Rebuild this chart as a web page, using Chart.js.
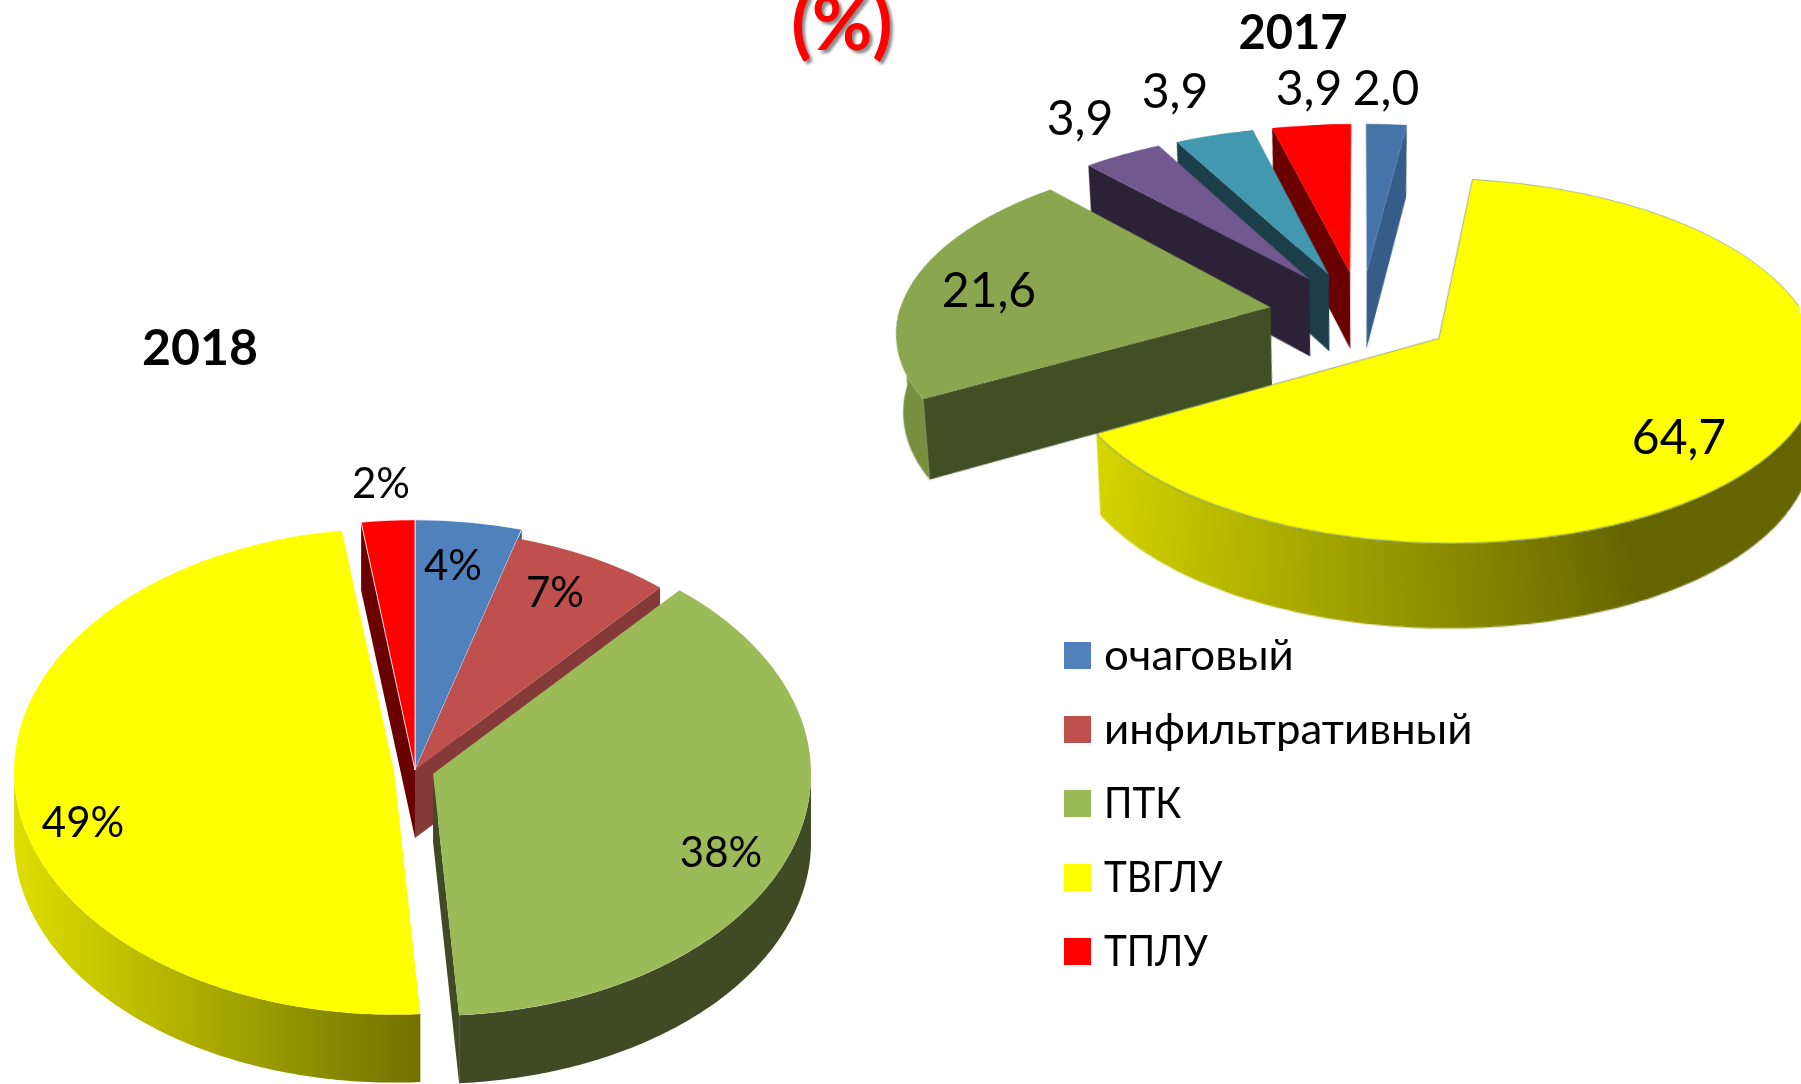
<!DOCTYPE html>
<html lang="ru">
<head>
<meta charset="utf-8">
<title>Диаграмма</title>
<script src="https://cdn.jsdelivr.net/npm/chart.js@4"></script>
<style>
html,body{margin:0;padding:0;background:#fff;width:1801px;height:1084px;overflow:hidden}
canvas{position:absolute;left:0;top:0}
.t{position:absolute;transform:translate(-50%,-50%);font-family:Lato,"Noto Sans",sans-serif;line-height:1;color:#000;white-space:nowrap}
.lg{position:absolute;font-family:Lato,"Noto Sans",sans-serif;color:#000;font-size:43px;line-height:1;white-space:nowrap;transform-origin:left center}
.sw{position:absolute;width:27px;height:27px}
</style>
</head>
<body>
<canvas id="c2018" width="1801" height="1084"></canvas>
<canvas id="c2017" width="1801" height="1084"></canvas>
<script>
// ---- data ----
const categories2018 = ['очаговый','инфильтративный','ПТК','ТВГЛУ','ТПЛУ'];
const values2018 = [4.4,6.9,37.6,48.9,2.2];
const categories2017 = ['очаговый','ТВГЛУ','ПТК','прочие 1','прочие 2','ТПЛУ'];
const values2017 = [2.0,64.7,21.6,3.9,3.9,3.9];
const year2018 = '2018', year2017 = '2017', heading = '(%)';

// ---- styles ----
const colors2018 = ['#4F81BD','#C0504D','#9BBB59','#FFFF00','#FF0000'];
const cutColors2018 = ['#3A5F8C','#853A38','#404B25','#6E6E00','#6B0000'];
const rimFills2018 = ['#3A5F8C','#853A38','#404B25',['#DEDE00','#727200',14,417],'#6B0000'];
const borders2018 = ['#FFFFFF','rgba(0,0,0,0)','rgba(0,0,0,0)','rgba(0,0,0,0)','#FFFFFF'];
const colors2017 = ['#4674A8','#FFFF00','#8AA64F','#71588F','#4198AF','#FF0000'];
const cutColors2017 = ['#365C8A','#6B6B00','#414F25','#2C2238','#1C3D4A','#6B0000'];
const rimFills2017 = ['#365C8A',['#DBDB00','#646400',1099,1600],'#76903F','#2C2238','#1C3D4A','#6B0000'];
const borders2017 = ['rgba(0,0,0,0)','rgba(60,100,150,.7)','rgba(0,0,0,0)','rgba(0,0,0,0)','rgba(0,0,0,0)','rgba(0,0,0,0)'];

// ---- 3D geometry ----
const view2018 = {radii:[391,376,378,380,391], squash:0.64, depth:68, depthGrow:0, converge:1, persp:0, explode:[0,0,19,21,0]};
const view2017 = {radii:[375,370,372,375,375,375], squash:0.47, depth:78, depthGrow:0.03, converge:0.985, persp:0.0007, explode:[92,92,92,92,92,92]};

// Squashes the library's arcs into ellipses, adds extruded walls, and applies the perspective.
const pie3d = {
  id:'pie3d',
  afterDatasetsUpdate(chart,args,o){
    const a=chart.chartArea, cx=(a.left+a.right)/2, cy=(a.top+a.bottom)/2;
    chart.$c={cx,cy};
    chart.getDatasetMeta(0).data.forEach((arc,i)=>{
      const mid=(arc.startAngle+arc.endAngle)/2;
      arc.x=cx+Math.cos(mid)*o.view.explode[i];
      arc.y=cy+Math.sin(mid)*o.view.explode[i];
      arc.outerRadius=o.view.radii[i];
    });
  },
  beforeDatasetsDraw(chart,args,o){
    const {cx,cy}=chart.$c, ctx=chart.ctx, v=o.view, k=v.squash, p=v.persp;
    const pt=(arc,ang,r)=>{
      const X=arc.x+r*Math.cos(ang), V=k*(arc.y-cy+r*Math.sin(ang));
      const st=1/(1-p*V), yT=V*st, yB=yT+v.depth+v.depthGrow*yT, sb=1+p*yB;
      return {x:X,y:cy+V,xb:cx+(X-cx)*st*v.converge/sb,yb:cy+yB/sb};
    };
    const arcs=chart.getDatasetMeta(0).data.map((arc,i)=>({arc,i}))
      .sort((A,B)=>A.arc.y-B.arc.y);
    arcs.forEach(({arc,i})=>{
      const s=arc.startAngle,e=arc.endAngle,R=v.radii[i];
      const cut=(ang)=>{
        const A=pt(arc,ang,0),B=pt(arc,ang,R);
        ctx.beginPath();ctx.moveTo(A.x,A.y);ctx.lineTo(B.x,B.y);
        ctx.lineTo(B.xb,B.yb);ctx.lineTo(A.xb,A.yb);ctx.closePath();
        ctx.fillStyle=o.cuts[i];ctx.fill();
      };
      if(Math.cos(e)>0) cut(e);
      if(-Math.cos(s)>0) cut(s);
      const a0=Math.max(s,0),a1=Math.min(e,Math.PI);
      if(a1>a0){
        const N=120,pts=[];
        for(let n=0;n<=N;n++) pts.push(pt(arc,a0+(a1-a0)*n/N,R));
        ctx.beginPath();
        pts.forEach((q,n)=>n?ctx.lineTo(q.x,q.y):ctx.moveTo(q.x,q.y));
        for(let n=N;n>=0;n--) ctx.lineTo(pts[n].xb,pts[n].yb);
        ctx.closePath();
        const f=o.rims[i];
        if(Array.isArray(f)){
          const g=ctx.createLinearGradient(f[2],0,f[3],0);
          g.addColorStop(0,f[0]);g.addColorStop(1,f[1]);ctx.fillStyle=g;
        } else ctx.fillStyle=f;
        ctx.fill();
      }
    });
    ctx.save();
    ctx.translate(cx,cy);ctx.scale(1,k);ctx.translate(-cx,-cy);
  },
  afterDatasetsDraw(chart){ chart.ctx.restore(); },
  afterDraw(chart,args,o){
    const p=o.view.persp; if(!p) return;
    const {cx,cy}=chart.$c, c=chart.canvas, W=c.width, H=c.height, ctx=chart.ctx;
    const off=document.createElement('canvas');off.width=W;off.height=H;
    off.getContext('2d').drawImage(c,0,0);
    ctx.save();ctx.setTransform(1,0,0,1,0,0);ctx.clearRect(0,0,W,H);
    for(let y=0;y<H;y++){
      const yp=y-cy, sc=1+p*yp;
      if(sc<=0) continue;
      const srcY=cy+yp/sc;
      if(srcY<0||srcY>=H-1) continue;
      ctx.drawImage(off,0,srcY,W,1,cx-cx*sc,y,W*sc,1);
    }
    ctx.restore();
  }
};

function makePie(id,labels,values,colors,borders,cuts,rims,view,padding){
  return new Chart(document.getElementById(id),{
    type:'pie',
    data:{labels,datasets:[{data:values,backgroundColor:colors,borderColor:borders,borderWidth:1,clip:false}]},
    options:{
      responsive:false,animation:false,radius:view.radii[0],
      layout:{padding},
      events:[],
      plugins:{legend:{display:false},tooltip:{enabled:false},title:{display:false},
        pie3d:{view,cuts,rims}}
    },
    plugins:[pie3d]
  });
}
makePie('c2018',categories2018,values2018,colors2018,borders2018,cutColors2018,rimFills2018,view2018,{right:971,top:456});
makePie('c2017',categories2017,values2017,colors2017,borders2017,cutColors2017,rimFills2017,view2017,{left:921,bottom:456});

// ---- text ----
function addText(txt,x,y,size,extra){
  const d=document.createElement('div');d.className='t';d.textContent=txt;
  d.style.left=x+'px';d.style.top=y+'px';d.style.fontSize=size+'px';
  if(extra) Object.assign(d.style,extra);
  document.body.appendChild(d);
}
const pct=v=>Math.round(v)+'%';
const dec=v=>v.toFixed(1).replace('.',',');
const labelPos2018=[[453,564],[555,591],[721,851],[83,821],[381,482]];
const labelPos2017=[[1386,87],[1679,436],[989,289],[1080,117],[1175,90],[1309,87]];
values2018.forEach((v,i)=>addText(pct(v),labelPos2018[i][0],labelPos2018[i][1],42));
values2017.forEach((v,i)=>addText(dec(v),labelPos2017[i][0],labelPos2017[i][1],48));
addText(year2018,200,346,50,{fontWeight:'700'});
addText(year2017,1293,31,47,{fontWeight:'700'});
addText(heading,842,22,74,{fontWeight:'700',color:'#FF0000',textShadow:'3px 3px 3px rgba(0,0,0,.45)'});

// legend
const legendTop=[642,716,790,864,938];
const legendStretch=[1.02,1.02,0.9,0.9,0.9];
categories2018.forEach((name,i)=>{
  const s=document.createElement('div');s.className='sw';
  s.style.left='1064px';s.style.top=legendTop[i]+'px';s.style.background=colors2018[i];
  document.body.appendChild(s);
  const l=document.createElement('div');l.className='lg';l.textContent=name;
  l.style.left='1104px';l.style.top=(legendTop[i]-10)+'px';
  l.style.transform='scaleX('+legendStretch[i]+')';
  document.body.appendChild(l);
});
</script>
</body>
</html>
